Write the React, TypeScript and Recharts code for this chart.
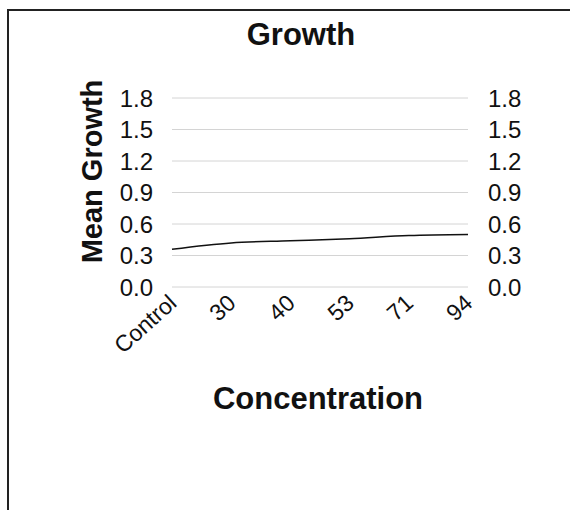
import { LineChart, Line, XAxis, YAxis, CartesianGrid } from 'recharts';

const concentrations = ['Control', '30', '40', '53', '71', '94'];
const meanGrowth = [0.36, 0.42, 0.44, 0.46, 0.49, 0.5];
const yTicks = [0, 0.3, 0.6, 0.9, 1.2, 1.5, 1.8];

const data = concentrations.map((c, i) => ({ conc: c, growth: meanGrowth[i] }));

const FONT = '"Liberation Sans", Arial, sans-serif';

function ConcTick({ x, y, payload }: any) {
  const px = x + 6;
  const py = y + 18;
  return (
    <text
      x={px}
      y={py}
      textAnchor="end"
      transform={`rotate(-42, ${px}, ${py})`}
      fontSize={23}
      fontFamily={FONT}
      fill="#111"
    >
      {payload.value}
    </text>
  );
}

const tickStyle = { fill: '#111', fontSize: 24, fontFamily: FONT };

export default function App() {
  return (
    <div style={{ position: 'absolute', left: 0, top: 0, width: 570, height: 510, overflow: 'hidden', background: '#fff' }}>
      <div
        style={{
          position: 'absolute',
          left: 7,
          top: 9,
          right: -10,
          bottom: -10,
          borderTop: '2px solid #222',
          borderLeft: '2px solid #222',
        }}
      />
      <div style={{ position: 'absolute', left: 0, top: 0 }}>
        <LineChart width={570} height={510} data={data} margin={{ top: 98, right: 42, bottom: 163, left: 112 }}>
          <CartesianGrid yAxisId="left" vertical={false} stroke="#d4d4d4" />
          <XAxis
            dataKey="conc"
            axisLine={false}
            tickLine={false}
            tickSize={0}
            tickMargin={0}
            height={60}
            interval={0}
            tick={<ConcTick />}
          />
          <YAxis
            yAxisId="left"
            domain={[0, 1.8]}
            ticks={yTicks}
            interval={0}
            width={60}
            axisLine={false}
            tickLine={false}
            tickSize={0}
            tickMargin={19}
            tick={tickStyle}
            tickFormatter={(v: number) => v.toFixed(1)}
          />
          <YAxis
            yAxisId="right"
            orientation="right"
            domain={[0, 1.8]}
            ticks={yTicks}
            interval={0}
            width={60}
            axisLine={false}
            tickLine={false}
            tickSize={0}
            tickMargin={20}
            tick={tickStyle}
            tickFormatter={(v: number) => v.toFixed(1)}
          />
          <Line
            yAxisId="right"
            type="monotone"
            dataKey="growth"
            stroke="none"
            strokeOpacity={0}
            dot={false}
            activeDot={false}
            isAnimationActive={false}
          />
          <Line
            yAxisId="left"
            type="monotone"
            dataKey="growth"
            stroke="#111"
            strokeWidth={1.5}
            dot={false}
            isAnimationActive={false}
          />
        </LineChart>
      </div>
      <svg width={570} height={510} style={{ position: 'absolute', left: 0, top: 0, pointerEvents: 'none' }}>
        <text x={301} y={45} textAnchor="middle" fontSize={31} fontWeight="bold" fontFamily={FONT} fill="#111">
          Growth
        </text>
        <text
          x={102}
          y={171.5}
          textAnchor="middle"
          transform="rotate(-90, 102, 171.5)"
          fontSize={29}
          fontWeight="bold"
          fontFamily={FONT}
          fill="#111"
        >
          Mean Growth
        </text>
        <text x={318} y={409} textAnchor="middle" fontSize={31} fontWeight="bold" fontFamily={FONT} fill="#111">
          Concentration
        </text>
      </svg>
    </div>
  );
}
